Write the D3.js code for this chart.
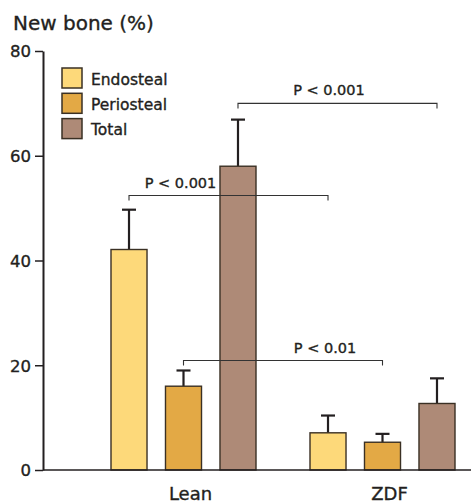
<!DOCTYPE html>
<html><head><meta charset="utf-8">
<script src="https://cdn.jsdelivr.net/npm/d3@7/dist/d3.min.js"></script>
<style>body{margin:0;background:#fff}svg{display:block;font-family:"DejaVu Sans",sans-serif}
text{stroke:#231f20;stroke-width:0.35px;paint-order:stroke}</style>
</head><body>
<svg id="c" width="471" height="503"></svg>
<script>
const groups = ["Lean", "ZDF"];
const series = ["Endosteal", "Periosteal", "Total"];
const means = {Lean: [42.1, 16.0, 58.0], ZDF: [7.1, 5.3, 12.7]};
const errTop = {Lean: [49.7, 19.0, 66.9], ZDF: [10.4, 6.9, 17.5]};
const yTicks = [0, 20, 40, 60, 80];
const colors = ["#FDD97A", "#E3A945", "#AE8A77"];
const sig = [
  {from: ["Lean", "Endosteal"], to: ["ZDF", "Endosteal"], level: 52.4, label: "P < 0.001"},
  {from: ["Lean", "Total"], to: ["ZDF", "Total"], level: 70.0, label: "P < 0.001"},
  {from: ["Lean", "Periosteal"], to: ["ZDF", "Periosteal"], level: 20.9, label: "P < 0.01"}
];

const svg = d3.select("#c");
const ink = "#231f20";
const y = d3.scaleLinear().domain([0, 80]).range([470, 51]);
const x0 = d3.scaleBand().domain(groups).range([84, 482]);
const x1 = d3.scaleBand().domain(series).range([27, 172]).paddingInner(0.339);
const cx = (g, s) => x0(g) + x1(s) + x1.bandwidth() / 2;

// title
svg.append("text").attr("x", 13).attr("y", 30).attr("font-size", 20).attr("fill", ink).text("New bone (%)");

// y axis
const ya = svg.append("g").attr("transform", "translate(43,0)")
  .call(d3.axisLeft(y).tickValues(yTicks).tickSize(8).tickPadding(4).tickSizeOuter(0));
ya.select(".domain").attr("stroke", ink).attr("stroke-width", 2);
ya.selectAll(".tick line").attr("stroke", ink).attr("stroke-width", 1.5);
ya.selectAll(".tick text").attr("font-size", 16.5).attr("fill", ink).attr("font-family", "DejaVu Sans").attr("dy", "0.36em");

// bars
const gs = svg.selectAll("g.grp").data(groups).join("g").attr("class", "grp")
  .attr("transform", g => `translate(${x0(g)},0)`);
gs.each(function(g) {
  const sel = d3.select(this);
  series.forEach((s, i) => {
    const bx = x1(s), bw = x1.bandwidth(), c = bx + bw / 2;
    sel.append("line").attr("x1", c).attr("x2", c).attr("y1", y(means[g][i])).attr("y2", y(errTop[g][i]))
      .attr("stroke", ink).attr("stroke-width", 2.2);
    sel.append("line").attr("x1", c - 7).attr("x2", c + 7).attr("y1", y(errTop[g][i])).attr("y2", y(errTop[g][i]))
      .attr("stroke", ink).attr("stroke-width", 2.2);
    sel.append("rect").attr("x", bx).attr("width", bw).attr("y", y(means[g][i]))
      .attr("height", y(0) - y(means[g][i])).attr("fill", colors[i]).attr("stroke", "#3a3024").attr("stroke-width", 1.4);
  });
});

// x baseline
svg.append("line").attr("x1", 43).attr("x2", 471).attr("y1", y(0)).attr("y2", y(0)).attr("stroke", ink).attr("stroke-width", 1.5);

// group labels
svg.selectAll("text.grp").data(groups).join("text").attr("class", "grp")
  .attr("x", g => x0(g) + x0.bandwidth() / 2 + 7).attr("y", 500).attr("text-anchor", "middle")
  .attr("font-size", 18).attr("fill", ink).text(g => g);

// significance brackets
const labelShift = [-48, -8.5, 42];
sig.forEach((d, k) => {
  const xa = cx(...d.from), xb = cx(...d.to), yy = y(d.level);
  svg.append("path").attr("d", `M${xa},${yy + 5}V${yy}H${xb}V${yy + 5}`)
    .attr("fill", "none").attr("stroke", "#333").attr("stroke-width", 1.1);
  svg.append("text").attr("x", (xa + xb) / 2 + labelShift[k]).attr("y", yy - 8).attr("text-anchor", "middle")
    .attr("font-size", 14.5).attr("fill", ink).text(d.label);
});

// legend
const lg = svg.append("g").attr("transform", "translate(62,68)");
series.forEach((s, i) => {
  lg.append("rect").attr("x", 0).attr("y", i * 25.3).attr("width", 20).attr("height", 20)
    .attr("fill", colors[i]).attr("stroke", "#3a3024").attr("stroke-width", 1.5);
  lg.append("text").attr("x", 29).attr("y", i * 25.3 + 16.5).attr("font-size", 15.5).attr("fill", ink).text(s);
});
</script>
</body></html>
